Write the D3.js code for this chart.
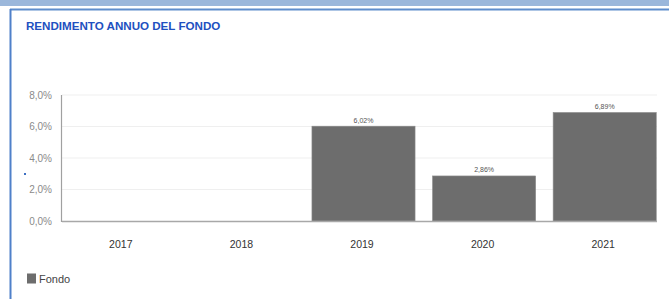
<!DOCTYPE html>
<html>
<head>
<meta charset="utf-8">
<script src="https://cdn.jsdelivr.net/npm/d3@7"></script>
<style>
  body { margin: 0; background: #fff; }
  svg { display: block; font-family: "Liberation Sans", Arial, sans-serif; }
</style>
</head>
<body>
<div class="chart"></div>
<script>
// data
var years = ["2017", "2018", "2019", "2020", "2021"];
var fondo = [null, null, 6.02, 2.86, 6.89];
var yTicks = [0, 2, 4, 6, 8];
var title = "RENDIMENTO ANNUO DEL FONDO";
var seriesName = "Fondo";

var width = 669, height = 299;
var barColor = "#6d6d6d";

var svg = d3.select(".chart").append("svg")
    .attr("width", width)
    .attr("height", height);

// frame of the panel
svg.append("rect")
    .attr("x", 0).attr("y", 0)
    .attr("width", width).attr("height", 6)
    .attr("fill", "#9bb7db");
svg.append("line")
    .attr("x1", 10).attr("x2", width)
    .attr("y1", 9.5).attr("y2", 9.5)
    .attr("stroke", "#5f8dcc").attr("stroke-width", 2);
svg.append("line")
    .attr("x1", 10.5).attr("x2", 10.5)
    .attr("y1", 9).attr("y2", height)
    .attr("stroke", "#4f80c9").attr("stroke-width", 2);

svg.append("text")
    .attr("x", 26).attr("y", 30)
    .style("font-size", "11.6px")
    .style("font-weight", "bold")
    .style("fill", "#2150c0")
    .text(title);

// little stray dot on the left
svg.append("rect")
    .attr("x", 24).attr("y", 173)
    .attr("width", 2).attr("height", 2)
    .attr("fill", "#3c6fc2");

var x = d3.scaleBand()
    .domain(years)
    .range([62, 665])
    .paddingInner(0.145)
    .paddingOuter(0.0725);

var y = d3.scaleLinear()
    .domain([0, 8])
    .range([221, 95]);

var gridRight = 657;

// gridlines
svg.selectAll(".grid")
    .data(yTicks.filter(function(d){ return d > 0; }))
    .enter().append("line")
    .attr("class", "grid")
    .attr("x1", 62).attr("x2", gridRight)
    .attr("y1", function(d){ return y(d); })
    .attr("y2", function(d){ return y(d); })
    .attr("stroke", "#efefef");

// y labels
svg.selectAll(".ylab")
    .data(yTicks)
    .enter().append("text")
    .attr("class", "ylab")
    .attr("x", 52)
    .attr("y", function(d){ return y(d) + 3.5; })
    .style("text-anchor", "end")
    .style("font-size", "10px")
    .style("fill", "#8a8a8a")
    .text(function(d){ return d3.format(".1f")(d).replace(".", ",") + "%"; });

// bars
var rows = years.map(function(yr, i){ return {year: yr, value: fondo[i]}; })
    .filter(function(d){ return d.value != null; });

svg.selectAll(".bar")
    .data(rows)
    .enter().append("rect")
    .attr("class", "bar")
    .attr("x", function(d){ return x(d.year); })
    .attr("y", function(d){ return y(d.value); })
    .attr("width", x.bandwidth())
    .attr("height", function(d){ return y(0) - y(d.value); })
    .attr("fill", barColor)
    .attr("stroke", "#8c8c8c")
    .attr("stroke-width", 0.6);

svg.selectAll(".vlab")
    .data(rows)
    .enter().append("text")
    .attr("class", "vlab")
    .attr("x", function(d){ return x(d.year) + x.bandwidth() / 2; })
    .attr("y", function(d){ return y(d.value) - 3.5; })
    .style("text-anchor", "middle")
    .style("font-size", "7px")
    .style("fill", "#555")
    .text(function(d){ return d3.format(".2f")(d.value).replace(".", ",") + "%"; });

// axes lines
svg.append("line")
    .attr("x1", 62).attr("x2", gridRight)
    .attr("y1", y(0) + 0.5).attr("y2", y(0) + 0.5)
    .attr("stroke", "#a8a8a8").attr("stroke-width", 1.5);
svg.append("line")
    .attr("x1", 61.5).attr("x2", 61.5)
    .attr("y1", y(8)).attr("y2", y(0) + 1)
    .attr("stroke", "#a0a0a0").attr("stroke-width", 1.2);

// x labels
svg.selectAll(".xlab")
    .data(years)
    .enter().append("text")
    .attr("class", "xlab")
    .attr("x", function(d){ return x(d) + x.bandwidth() / 2 - 1.5; })
    .attr("y", 248)
    .style("text-anchor", "middle")
    .style("font-size", "10.5px")
    .style("fill", "#333")
    .text(function(d){ return d; });

// legend
svg.append("rect")
    .attr("x", 27).attr("y", 273.5)
    .attr("width", 9).attr("height", 10)
    .attr("fill", barColor);
svg.append("text")
    .attr("x", 39).attr("y", 283)
    .style("font-size", "11px")
    .style("fill", "#444")
    .text(seriesName);
</script>
</body>
</html>
